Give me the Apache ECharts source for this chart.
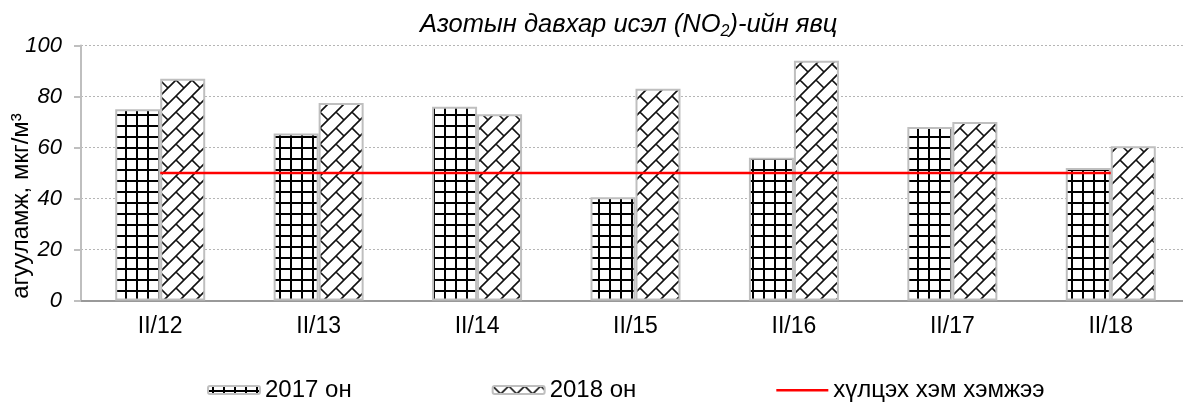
<!DOCTYPE html>
<html>
<head>
<meta charset="utf-8">
<script src="https://cdn.jsdelivr.net/npm/echarts@6/dist/echarts.min.js"></script>
<style>
  html, body { margin: 0; padding: 0; background: #fff; }
  #main { width: 1183px; height: 402px; }
</style>
</head>
<body>
<div id="main"></div>
<script>
const categories = ['II/12', 'II/13', 'II/14', 'II/15', 'II/16', 'II/17', 'II/18'];
const values2017 = [75, 65.5, 76, 40.5, 56, 68, 52];
const values2018 = [87, 77.5, 73, 83, 94, 70, 60.5];
const limitValues = [50, 50, 50, 50, 50, 50, 50];
const yTicks = [0, 20, 40, 60, 80, 100];

const seriesNames = ['2017 он', '2018 он', 'хүлцэх хэм хэмжээ'];
const font = 'Liberation Sans, Arial, sans-serif';

// square grid fill for 2017
function gridPattern() {
    let c = document.createElement('canvas');
    c.width = 11;
    c.height = 11;
    let ctx = c.getContext('2d');
    ctx.fillStyle = '#fff';
    ctx.fillRect(0, 0, 11, 11);
    ctx.fillStyle = '#000';
    ctx.fillRect(4, 0, 2, 11);
    ctx.fillRect(0, 4, 11, 2);
    return c;
}

// diagonal brick fill for 2018
function brickPattern() {
    let T = 16, S = 2 * T;
    let c = document.createElement('canvas');
    c.width = S;
    c.height = S;
    let ctx = c.getContext('2d');
    ctx.fillStyle = '#fff';
    ctx.fillRect(0, 0, S, S);
    ctx.strokeStyle = '#111';
    ctx.lineWidth = 1.6;
    ctx.beginPath();
    for (let n = -2; n <= 6; n++) {
        ctx.moveTo(-S, n * T + S);
        ctx.lineTo(2 * S, n * T - 2 * S);
    }
    for (let n = -2; n <= 6; n++) {
        let off = ((n % 2) + 2) % 2 * T;
        for (let m = -4; m <= 4; m++) {
            let k = 2 * m * T + off;
            ctx.moveTo((n * T + k) / 2, (n * T - k) / 2);
            ctx.lineTo(((n + 1) * T + k) / 2, ((n + 1) * T - k) / 2);
        }
    }
    ctx.stroke();
    return c;
}

let chart = echarts.init(document.getElementById('main'));

let option = {
    animation: false,
    backgroundColor: '#fff',
    title: {
        left: 415,
        top: 4,
        text: '{a|Азотын давхар исэл (NO}{s|2}{a|)-ийн явц}',
        textStyle: {
            fontWeight: 'normal',
            rich: {
                a: { fontFamily: font, fontSize: 25.5, fontStyle: 'italic', fontWeight: 'normal', color: '#000' },
                s: { fontFamily: font, fontSize: 16, fontStyle: 'italic', fontWeight: 'normal', color: '#000', padding: [15, 0, 0, 0] }
            }
        }
    },
    grid: {
        left: 81,
        right: -7,
        top: 45.5,
        bottom: 101.5,
        outerBoundsMode: 'none'
    },
    legend: {
        left: 202,
        top: 373,
        itemWidth: 52,
        itemHeight: 8,
        itemGap: 140,
        data: [
            { name: seriesNames[0] },
            { name: seriesNames[1] },
            { name: seriesNames[2], icon: 'path://M0,3 L52,3 L52,5.6 L0,5.6 Z M0,0 L0.01,0 M0,8 L0.01,8' }
        ],
        textStyle: { fontFamily: font, fontSize: 24, color: '#000' }
    },
    xAxis: {
        type: 'category',
        data: categories,
        axisLine: { lineStyle: { color: '#999', width: 2 } },
        axisTick: { show: false },
        axisLabel: { fontFamily: font, fontSize: 23, color: '#000', margin: 15 }
    },
    yAxis: {
        type: 'value',
        min: yTicks[0],
        max: yTicks[yTicks.length - 1],
        interval: 20,
        name: 'агууламж, мкг/м³',
        nameLocation: 'middle',
        nameGap: 48,
        nameMoveOverlap: false,
        nameRotate: 90,
        nameTextStyle: { fontFamily: font, fontSize: 24, color: '#000', padding: [0, 66, 0, 0] },
        axisLine: { show: true, lineStyle: { color: '#bfbfbf', width: 2 } },
        axisTick: { show: true, length: 7, lineStyle: { color: '#bfbfbf', width: 2 } },
        axisLabel: { fontFamily: font, fontSize: 22, fontStyle: 'italic', color: '#000', margin: 19 },
        splitLine: { lineStyle: { color: '#b5b5b5', type: [2, 2], width: 1 } }
    },
    series: [{
        name: seriesNames[0],
        type: 'bar',
        data: values2017,
        barWidth: 45,
        barGap: '0%',
        itemStyle: {
            color: { image: gridPattern(), repeat: 'repeat' },
            borderColor: '#bfbfbf',
            borderWidth: 2
        }
    }, {
        name: seriesNames[1],
        type: 'bar',
        data: values2018,
        barWidth: 45,
        itemStyle: {
            color: { image: brickPattern(), repeat: 'repeat' },
            borderColor: '#bfbfbf',
            borderWidth: 2
        }
    }, {
        name: seriesNames[2],
        type: 'line',
        data: limitValues,
        symbol: 'none',
        z: 5,
        itemStyle: { color: '#ff0000' },
        lineStyle: { color: '#ff0000', width: 2.5 }
    }]
};

chart.setOption(option);
</script>
</body>
</html>
